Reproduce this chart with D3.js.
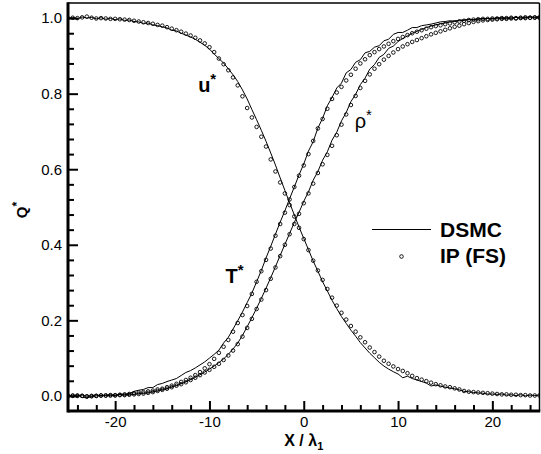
<!DOCTYPE html>
<html>
<head>
<meta charset="utf-8">
<script src="https://cdn.jsdelivr.net/npm/d3@7"></script>
<style>
  html, body { margin: 0; padding: 0; background: #fff; }
  svg { display: block; }
  text { font-family: "Liberation Sans", Arial, Helvetica, sans-serif; fill: #000; }
</style>
</head>
<body>
<svg id="chart" width="541" height="454"></svg>
<script>
// ---------------- DATA ----------------
const xPos = [
  -25,-24.5,-24,-23.5,-23,-22.5,-22,-21.5,-21,-20.5,
  -20,-19.5,-19,-18.5,-18,-17.5,-17,-16.5,-16,-15.5,
  -15,-14.5,-14,-13.5,-13,-12.5,-12,-11.5,-11,-10.5,
  -10,-9.5,-9,-8.5,-8,-7.5,-7,-6.5,-6,-5.5,
  -5,-4.5,-4,-3.5,-3,-2.5,-2,-1.5,-1,-0.5,
  0,0.5,1,1.5,2,2.5,3,3.5,4,4.5,
  5,5.5,6,6.5,7,7.5,8,8.5,9,9.5,
  10,10.5,11,11.5,12,12.5,13,13.5,14,14.5,
  15,15.5,16,16.5,17,17.5,18,18.5,19,19.5,
  20,20.5,21,21.5,22,22.5,23,23.5,24,24.5,
  25
];

// IP (FS) symbols
const ipU = [
  1.000,1.001,1.000,1.002,1.004,1.001,0.999,1.000,0.999,0.998,
  0.998,0.997,0.996,0.995,0.993,0.991,0.989,0.987,0.985,0.982,
  0.980,0.976,0.972,0.968,0.964,0.959,0.954,0.948,0.941,0.933,
  0.923,0.910,0.893,0.878,0.862,0.843,0.822,0.793,0.762,0.737,
  0.712,0.686,0.660,0.626,0.594,0.565,0.536,0.505,0.475,0.445,
  0.415,0.386,0.358,0.332,0.307,0.283,0.260,0.239,0.220,0.202,
  0.185,0.170,0.155,0.142,0.128,0.116,0.104,0.093,0.085,0.078,
  0.071,0.066,0.060,0.053,0.047,0.043,0.039,0.035,0.031,0.028,
  0.025,0.023,0.020,0.017,0.013,0.011,0.010,0.009,0.008,0.007,
  0.006,0.005,0.004,0.004,0.003,0.003,0.002,0.002,0.001,0.001,
  0.001
];
const ipT = [
  0.000,0.001,0.000,0.000,-0.002,-0.001,0.000,0.001,0.001,0.002,
  0.002,0.003,0.004,0.005,0.007,0.009,0.010,0.012,0.014,0.017,
  0.019,0.023,0.027,0.032,0.037,0.042,0.048,0.055,0.063,0.073,
  0.084,0.098,0.114,0.130,0.148,0.170,0.193,0.214,0.238,0.270,
  0.302,0.330,0.360,0.390,0.424,0.455,0.485,0.520,0.553,0.583,
  0.610,0.640,0.675,0.708,0.733,0.760,0.786,0.803,0.818,0.835,
  0.850,0.866,0.880,0.891,0.902,0.910,0.918,0.925,0.932,0.939,
  0.945,0.950,0.955,0.960,0.964,0.968,0.972,0.976,0.979,0.981,
  0.984,0.986,0.989,0.991,0.993,0.995,0.996,0.997,0.998,0.998,
  0.999,0.999,1.000,1.000,1.001,1.000,1.001,1.002,1.001,1.002,
  1.002
];
const ipRho = [
  0.000,0.000,0.001,0.000,-0.001,0.000,0.000,0.001,0.001,0.001,
  0.001,0.002,0.002,0.003,0.004,0.005,0.006,0.008,0.010,0.013,
  0.016,0.019,0.023,0.027,0.031,0.036,0.042,0.048,0.055,0.062,
  0.069,0.077,0.085,0.095,0.107,0.120,0.137,0.157,0.180,0.204,
  0.230,0.255,0.280,0.310,0.340,0.370,0.400,0.428,0.455,0.482,
  0.510,0.536,0.562,0.590,0.613,0.638,0.662,0.690,0.718,0.745,
  0.770,0.794,0.815,0.834,0.851,0.866,0.878,0.890,0.900,0.909,
  0.918,0.925,0.931,0.937,0.942,0.947,0.952,0.957,0.961,0.965,
  0.969,0.973,0.977,0.980,0.984,0.987,0.990,0.992,0.994,0.995,
  0.996,0.997,0.998,0.998,0.999,0.999,1.000,1.000,1.001,1.001,
  1.001
];

// DSMC lines
const dsmcU = [
  0.999,1.002,0.998,1.003,1.000,1.002,0.998,1.001,0.997,0.999,
  0.996,0.998,0.994,0.995,0.991,0.990,0.986,0.987,0.982,0.980,
  0.977,0.974,0.968,0.966,0.960,0.955,0.950,0.944,0.936,0.928,
  0.918,0.905,0.893,0.881,0.866,0.850,0.832,0.810,0.786,0.758,
  0.731,0.703,0.674,0.643,0.611,0.577,0.544,0.511,0.479,0.447,
  0.417,0.387,0.357,0.330,0.302,0.278,0.253,0.231,0.210,0.192,
  0.174,0.158,0.141,0.127,0.113,0.101,0.089,0.079,0.071,0.064,
  0.058,0.048,0.052,0.046,0.042,0.038,0.034,0.026,0.029,0.026,
  0.023,0.021,0.019,0.016,0.012,0.011,0.009,0.008,0.007,0.005,
  0.005,0.004,0.005,0.002,0.003,0.001,0.003,0.000,0.002,0.001,
  0.002
];
const dsmcT = [
  0.002,0.000,0.003,-0.004,-0.005,-0.002,0.000,0.001,0.001,0.003,
  0.002,0.004,0.004,0.006,0.012,0.015,0.017,0.022,0.022,0.030,
  0.033,0.038,0.042,0.046,0.054,0.062,0.067,0.074,0.082,0.090,
  0.100,0.110,0.121,0.140,0.155,0.177,0.199,0.222,0.247,0.272,
  0.302,0.332,0.365,0.396,0.428,0.460,0.490,0.522,0.553,0.585,
  0.614,0.648,0.673,0.709,0.735,0.768,0.790,0.815,0.828,0.855,
  0.864,0.883,0.890,0.908,0.912,0.923,0.927,0.940,0.944,0.957,
  0.962,0.962,0.968,0.975,0.975,0.980,0.982,0.984,0.987,0.990,
  0.991,0.993,0.992,0.995,0.995,0.997,0.996,0.998,0.999,0.999,
  0.998,1.000,1.001,0.999,1.000,1.002,1.001,1.001,1.003,1.002,
  1.004
];
const dsmcRho = [
  0.001,-0.002,0.000,0.002,-0.001,0.000,0.003,0.000,0.002,0.001,
  0.001,0.003,0.002,0.004,0.004,0.006,0.007,0.008,0.011,0.013,
  0.017,0.019,0.024,0.027,0.032,0.037,0.043,0.049,0.056,0.063,
  0.071,0.079,0.088,0.098,0.110,0.124,0.140,0.160,0.183,0.207,
  0.232,0.258,0.285,0.313,0.342,0.372,0.401,0.430,0.459,0.486,
  0.515,0.540,0.571,0.594,0.624,0.646,0.677,0.698,0.728,0.750,
  0.779,0.798,0.824,0.841,0.865,0.877,0.896,0.904,0.920,0.926,
  0.938,0.946,0.953,0.960,0.965,0.970,0.975,0.979,0.982,0.985,
  0.987,0.990,0.991,0.993,0.994,0.996,0.996,0.998,0.998,0.999,
  0.999,1.000,0.999,1.001,1.000,1.002,1.000,1.001,1.003,1.001,
  1.001
];

const xMajorTicks = [-20, -10, 0, 10, 20];
const xMinorTicks = [-24,-22,-18,-16,-14,-12,-8,-6,-4,-2,2,4,6,8,12,14,16,18,22,24];
const yMajorTicks = [0, 0.2, 0.4, 0.6, 0.8, 1.0];
const yMinorTicks = [0.04,0.08,0.12,0.16,0.24,0.28,0.32,0.36,0.44,0.48,0.52,0.56,0.64,0.68,0.72,0.76,0.84,0.88,0.92,0.96];

const curveLabels = [
  { name: "u", x: -11.2, y: 0.805, bold: true },
  { name: "T", x: -8.3, y: 0.300, bold: true },
  { name: "ρ", x: 5.4, y: 0.710, bold: false }
];
const legendItems = ["DSMC", "IP (FS)"];

// ---------------- CHART ----------------
const svg = d3.select("#chart");
const pLeft = 68, pRight = 539.5, pTop = 3, pBottom = 411;

const x = d3.scaleLinear().domain([-25, 25]).range([pLeft, pRight]);
const y = d3.scaleLinear().domain([-0.04, 1.04]).range([pBottom, pTop]);

svg.append("defs").append("clipPath").attr("id", "plotclip")
  .append("rect").attr("x", pLeft).attr("y", pTop).attr("width", pRight - pLeft).attr("height", pBottom - pTop);

const plot = svg.append("g").attr("clip-path", "url(#plotclip)");

const line = d3.line().x(d => x(d[0])).y(d => y(d[1]));
[dsmcU, dsmcT, dsmcRho].forEach(s => {
  plot.append("path")
    .datum(xPos.map((v, i) => [v, s[i]]))
    .attr("d", line)
    .attr("fill", "none")
    .attr("stroke", "#000")
    .attr("stroke-width", 1);
});

[ipU, ipT, ipRho].forEach(s => {
  plot.append("g").selectAll("circle")
    .data(xPos.map((v, i) => [v, s[i]]))
    .join("circle")
    .attr("cx", d => x(d[0]))
    .attr("cy", d => y(d[1]))
    .attr("r", 1.8)
    .attr("fill", "none")
    .attr("stroke", "#000")
    .attr("stroke-width", 0.9);
});

// frame
svg.append("line").attr("x1", pLeft).attr("x2", pRight).attr("y1", pTop).attr("y2", pTop)
  .attr("stroke", "#000").attr("stroke-width", 1.5);
svg.append("line").attr("x1", pRight).attr("x2", pRight).attr("y1", pTop).attr("y2", pBottom)
  .attr("stroke", "#000").attr("stroke-width", 1.5);

// axes (inward ticks)
const fmt = d => (d < 0 ? "-" : "") + Math.abs(d);
const xAxisMajor = d3.axisBottom(x).tickValues(xMajorTicks).tickSize(-10).tickPadding(5).tickFormat(fmt);
const xAxisMinor = d3.axisBottom(x).tickValues(xMinorTicks).tickSize(-6).tickFormat("");
const yAxisMajor = d3.axisLeft(y).tickValues(yMajorTicks).tickSize(-10).tickPadding(6).tickFormat(d3.format(".1f"));
const yAxisMinor = d3.axisLeft(y).tickValues(yMinorTicks).tickSize(-6).tickFormat("");

function styleAxis(g) {
  g.select(".domain").remove();
  g.selectAll(".tick line").attr("stroke", "#000").attr("stroke-width", 2);
  g.selectAll(".tick text").attr("font-size", 15).attr("fill", "#000")
    .attr("font-family", '"Liberation Sans", Arial, sans-serif');
}
svg.append("g").attr("transform", `translate(0,${pBottom})`).call(xAxisMinor).call(styleAxis);
svg.append("g").attr("transform", `translate(0,${pBottom})`).call(xAxisMajor).call(styleAxis);
svg.append("g").attr("transform", `translate(${pLeft},0)`).call(yAxisMinor).call(styleAxis);
svg.append("g").attr("transform", `translate(${pLeft},0)`).call(yAxisMajor).call(styleAxis);

svg.append("line").attr("x1", pLeft).attr("x2", pRight + 0.75).attr("y1", pBottom).attr("y2", pBottom)
  .attr("stroke", "#000").attr("stroke-width", 3);
svg.append("line").attr("x1", pLeft).attr("x2", pLeft).attr("y1", pTop - 0.75).attr("y2", pBottom + 1.5)
  .attr("stroke", "#000").attr("stroke-width", 3);

// axis titles
const xt = svg.append("text").attr("x", (pLeft + pRight) / 2).attr("y", 446)
  .attr("text-anchor", "middle").attr("font-size", 16).attr("font-weight", "bold");
xt.append("tspan").text("X / λ");
xt.append("tspan").text("1").attr("font-size", 11).attr("dy", 4);

const yt = svg.append("text").attr("transform", "translate(27,210) rotate(-90)")
  .attr("text-anchor", "middle").attr("font-size", 15).attr("font-weight", "bold");
yt.append("tspan").text("Q");
yt.append("tspan").text("*").attr("font-size", 12).attr("dy", -6);

// curve labels
curveLabels.forEach(l => {
  const t = svg.append("text").attr("x", x(l.x)).attr("y", y(l.y))
    .attr("font-size", 20).attr("font-weight", l.bold ? "bold" : "normal");
  t.append("tspan").text(l.name);
  t.append("tspan").text("*").attr("font-size", 15).attr("dy", -8);
});

// legend
svg.append("line").attr("x1", 372).attr("x2", 431).attr("y1", 229.5).attr("y2", 229.5)
  .attr("stroke", "#000").attr("stroke-width", 1);
svg.append("circle").attr("cx", 401.5).attr("cy", 256.5).attr("r", 1.8)
  .attr("fill", "none").attr("stroke", "#000").attr("stroke-width", 0.9);
legendItems.forEach((name, i) => {
  svg.append("text").attr("x", 440).attr("y", 237 + i * 26)
    .attr("font-size", 21).attr("font-weight", "bold").text(name);
});
</script>
</body>
</html>
